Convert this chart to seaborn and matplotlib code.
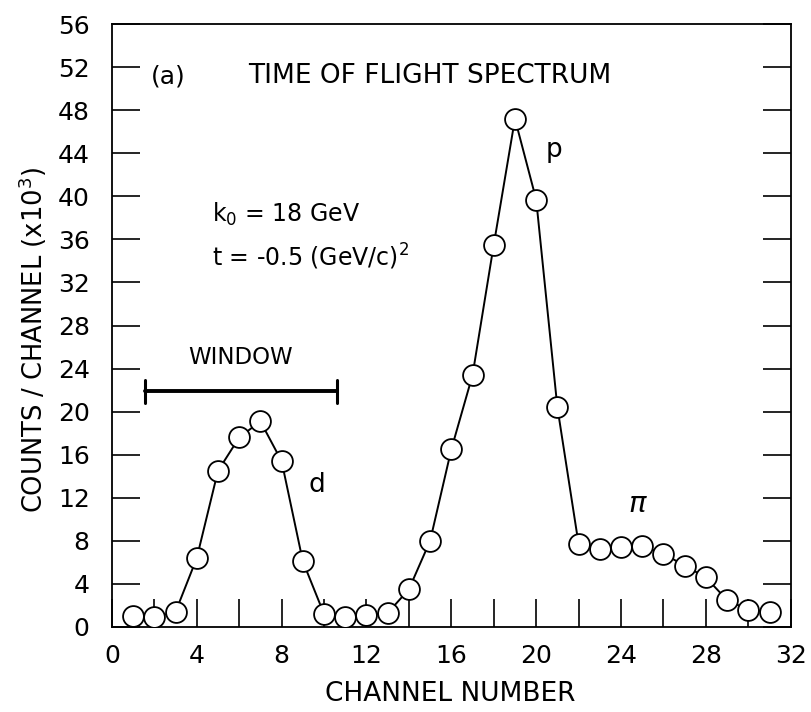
import numpy as np
import pandas as pd
import matplotlib
matplotlib.use("Agg")
import matplotlib.pyplot as plt
import seaborn as sns

channels = list(range(1, 32))
counts = [1.0, 0.9, 1.4, 6.4, 14.5, 17.6, 19.1, 15.4, 6.1, 1.2, 0.9, 1.1, 1.3,
          3.5, 8.0, 16.5, 23.4, 35.5, 47.2, 39.7, 20.4, 7.7, 7.2, 7.4, 7.5,
          6.8, 5.7, 4.6, 2.5, 1.6, 1.4]

x_ticks = [0, 4, 8, 12, 16, 20, 24, 28, 32]
y_ticks = list(range(0, 57, 4))
window = [1.55, 10.6]
window_y = 21.9

sns.set_theme(style="white")
plt.rcParams['font.family'] = ['DejaVu Sans']
for k in ["text.color", "axes.labelcolor", "xtick.color", "ytick.color", "axes.edgecolor"]:
    plt.rcParams[k] = "black"

fig = plt.figure(figsize=(8.11, 7.12), dpi=100)
ax = fig.add_axes([0.138, 0.1194, 0.837, 0.8468])

df = pd.DataFrame({"channel": channels, "counts": counts})
sns.lineplot(data=df, x="channel", y="counts", ax=ax, color="black", lw=1.4,
             marker="o", markersize=15, markerfacecolor="white",
             markeredgecolor="black", markeredgewidth=1.3, zorder=3)

ax.set_xlim(0, 32)
ax.set_ylim(0, 56)
ax.set_xticks(x_ticks)
ax.set_xticks(list(range(0, 33, 2)), minor=True)
ax.set_yticks(y_ticks)
ax.set_xticklabels([str(v) for v in x_ticks], fontsize=18)
ax.set_yticklabels([str(v) for v in y_ticks], fontsize=18)
ax.tick_params(axis="x", which="both", direction="in", length=20, width=1.2,
               bottom=True, top=False, pad=12)
ax.tick_params(axis="y", which="both", direction="in", length=20, width=1.2,
               left=True, right=True, pad=16)
for s in ax.spines.values():
    s.set_color("black")
    s.set_linewidth(1.3)

ax.set_xlabel("CHANNEL NUMBER", fontsize=19)
ax.set_ylabel("COUNTS / CHANNEL (x10$^3$)", fontsize=18.5)
ax.xaxis.set_label_coords(0.499, -0.0896)
ax.yaxis.set_label_coords(-0.093, 0.476)

# window bar
ax.plot(window, [window_y, window_y], color="black", lw=2.8)
for wx in window:
    ax.plot([wx, wx], [window_y - 1.05, window_y + 1.05], color="black", lw=2.2)
ax.text(6.08, 25.0, "WINDOW", fontsize=16.5, ha="center", va="center")

ax.text(2.64, 51.15, "(a)", fontsize=18, ha="center", va="center")
ax.text(6.41, 51.15, "TIME OF FLIGHT SPECTRUM", fontsize=19, ha="left", va="center")
ax.text(4.71, 38.3, "k$_0$ = 18 GeV", fontsize=17, ha="left", va="center")
ax.text(4.71, 34.35, "t = -0.5 (GeV/c)$^2$", fontsize=17, ha="left", va="center")
ax.text(9.65, 13.2, "d", fontsize=19, ha="center", va="center")
ax.text(20.85, 44.3, "p", fontsize=19, ha="center", va="center")
ax.text(24.8, 11.4, r"$\pi$", fontsize=21, ha="center", va="center")

fig.savefig("out.png", dpi=100)
